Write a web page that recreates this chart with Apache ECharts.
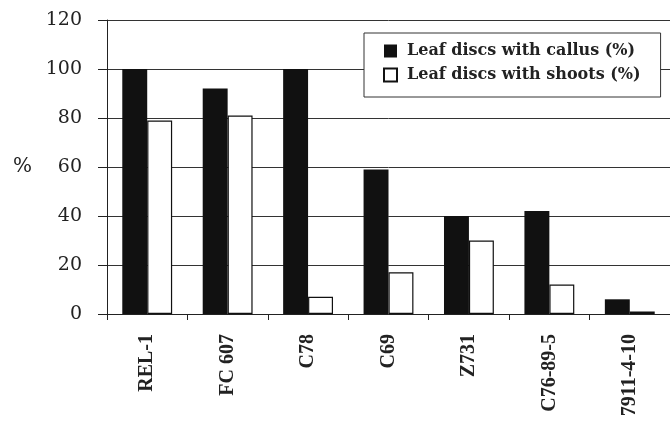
<!DOCTYPE html>
<html>
<head>
<meta charset="utf-8">
<script src="https://cdn.jsdelivr.net/npm/echarts@6/dist/echarts.min.js"></script>
<style>
  html, body { margin: 0; padding: 0; background: #fff; }
  #chart { width: 670px; height: 427px; }
</style>
</head>
<body>
<div id="chart"></div>
<script>
// cultivars on the x axis
var cultivars = ['REL-1', 'FC 607', 'C78', 'C69', 'Z731', 'C76-89-5', '7911-4-10'];
// % leaf discs with callus / with shoots
var callus = [100, 92, 100, 59, 40, 42, 6];
var shoots = [79, 81, 7, 17, 30, 12, 1];
var yTicks = { min: 0, max: 120, interval: 20 };

var myChart = echarts.init(document.getElementById('chart'));
var serif = '"DejaVu Serif", "Liberation Serif", serif';
var times = '"Liberation Serif", "DejaVu Serif", serif';

var option = {
	backgroundColor: '#fff',
	animation: false,
	grid: {
		left: 107,
		right: 0,
		top: 20,
		bottom: 113,
		outerBoundsMode: 'none'
	},
	legend: {
		orient: 'vertical',
		left: 364,
		top: 33,
		backgroundColor: '#fff',
		borderColor: '#333',
		borderWidth: 1,
		padding: [10, 20, 14, 19],
		itemGap: 8,
		itemWidth: 13,
		itemHeight: 13,
		icon: 'rect',
		textStyle: {
			fontFamily: serif,
			fontWeight: 'bold',
			fontSize: 16,
			color: '#222',
			padding: [0, 0, 0, 5]
		},
		data: ['Leaf discs with callus (%)', 'Leaf discs with shoots (%)']
	},
	xAxis: {
		type: 'category',
		data: cultivars,
		axisLine: { lineStyle: { color: '#222', width: 1 } },
		axisTick: { show: true, length: 6, lineStyle: { color: '#222' } },
		axisLabel: {
			rotate: 90,
			margin: 20,
			fontFamily: times,
			fontWeight: 'bold',
			fontSize: 20,
			color: '#222'
		}
	},
	yAxis: {
		type: 'value',
		min: yTicks.min,
		max: yTicks.max,
		interval: yTicks.interval,
		name: '%',
		nameLocation: 'middle',
		nameRotate: 0,
		nameGap: 75,
		nameTextStyle: { fontFamily: serif, fontSize: 20, color: '#222' },
		axisLine: { show: true, lineStyle: { color: '#222', width: 1 } },
		axisTick: { show: true, length: 9, lineStyle: { color: '#222' } },
		axisLabel: {
			margin: 25,
			fontFamily: serif,
			fontSize: 19,
			color: '#222'
		},
		splitLine: { lineStyle: { color: '#333', width: 1 } }
	},
	series: [{
		name: 'Leaf discs with callus (%)',
		type: 'bar',
		barGap: '0%',
		barCategoryGap: '38%',
		itemStyle: { color: '#111' },
		data: callus
	}, {
		name: 'Leaf discs with shoots (%)',
		type: 'bar',
		barGap: '0%',
		barCategoryGap: '38%',
		itemStyle: { color: '#fff', borderColor: '#111', borderWidth: 1.2 },
		data: shoots
	}]
};

myChart.setOption(option);
</script>
</body>
</html>
